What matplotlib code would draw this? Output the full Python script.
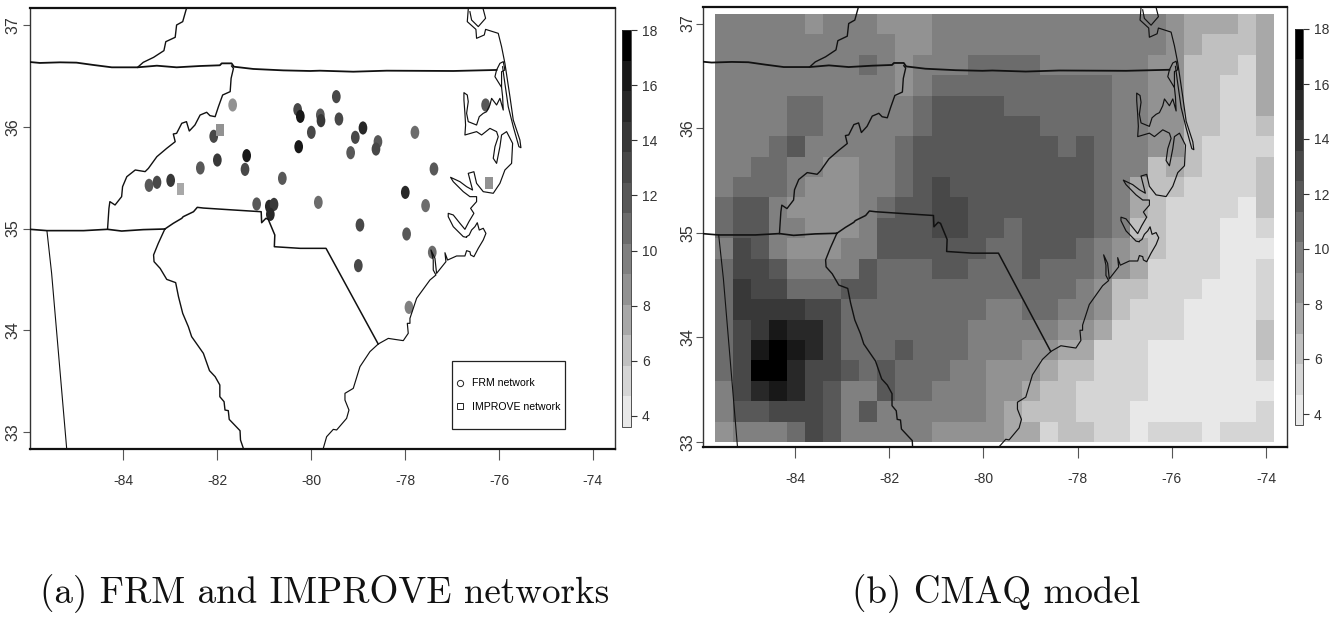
"""
Two map panels of PM2.5: monitoring sites (a) and CMAQ model grid (b).
"""

import numpy as np
import matplotlib
matplotlib.use("Agg")
import matplotlib.pyplot as plt
from matplotlib.colors import ListedColormap, BoundaryNorm
from matplotlib.cm import ScalarMappable
from matplotlib.lines import Line2D
from matplotlib.patches import Rectangle
from matplotlib.path import Path
from matplotlib.transforms import Affine2D

FIG_W = 1339
FIG_H = 620

LABEL_FONT = "Liberation Sans"

GRAYS = ["#e8e8e8", "#d5d5d5", "#c0c0c0", "#a8a8a8", "#929292", "#808080", "#6c6c6c",
         "#585858", "#484848", "#383838", "#282828", "#181818", "#000000"]
BOUNDS = np.linspace(3.6, 18, 14)
CBAR_TICKS = [4, 6, 8, 10, 12, 14, 16, 18]
X_TICKS = [-84, -82, -80, -78, -76, -74]
X_LABELS = ["-84", "-82", "-80", "-78", "-76", "-74"]
Y_TICKS = [33, 34, 35, 36, 37]
Y_LABELS = ["33", "34", "35", "36", "37"]

# model grid, one hex digit per cell = colour bin (0 lightest, c darkest), north row first
cmaq_bins = [
    "55555 4 555 444 5555555555555 4 333 2 3",
    "5555555555 44 5555555555555 4 3 222 3",
    "55555555 6 5 4 555 6666 555555 44 222 1 3",
    "5555555555 4 5 6666666666 55 44 22 11 3",
    "5555 66 55555 6 7777 666666 55 44 22 11 3",
    "5555 66 55555 6 777777 6666 55 44 22 11 2",
    "555 6 7 55555 6 77777777 6 7 6 55 44 2 111 1",
    "55 66 55 44 55 6 7777777777 6 55 23 2 111 2",
    "5 666 5 444 55 6 7 8 77777777 6 5 3 22 1111 2",
    "6 77 5 4444 5 6 77 88 7777777 6 5 3 2 1111 0 2",
    "6 77 5 5 44 45 777 88 77 6 7777 6 5 2 2 111 00 1",
    "5 8 7 5 444 55 777777 66 777 6 5 4 3 2 111 00 0",
    "6 88 7 5555 7 666 77 666 7 666 5 4 3 1111 00 1",
    "6 9 88 666 77 66666666666 5 4 22 111 000 1",
    "6 9999 88 66666666 55 66 55 4 2 111 0000 1",
    "6 8 9 b aa 8 6 666666 555 55 44 3 1111 0000 2",
    "6 8 b c b a 8 6 66 7 666 555 4 4 33 111 000000 2",
    "6 8 cc a 88 7 6 7 666 55 44 4 3 22 111 000000 1",
    "5 8 a b a 8 7 55 7 66 555 44 3 22 1111 0000000",
    "5 77 888 7 5 7 5 55555 4 3 222 111 0000000 1",
    "4 555 6 8 7 555 55 444 4 3 3 1 22 11 0 111 0 111",
]

# monitoring sites
frm_lon = [-83.447, -83.277, -82.986, -82.355, -81.993, -82.07, -81.667, -81.369, -81.404,
           -80.61, -81.156, -80.887, -80.787, -80.865, -80.284, -80.227, -79.993, -80.262,
           -79.844, -79.801, -79.787, -79.461, -79.405, -78.894, -79.057, -79.156, -78.575,
           -78.617, -77.788, -77.383, -77.993, -77.561, -78.958, -77.965, -77.419, -78.993,
           -77.915, -76.284]
frm_lat = [35.424, 35.454, 35.473, 35.595, 35.673, 35.906, 36.214, 35.716, 35.581,
           35.493, 35.241, 35.218, 35.237, 35.139, 36.168, 36.102, 35.945, 35.804,
           35.257, 36.115, 36.06, 36.296, 36.076, 35.988, 35.896, 35.745, 35.853,
           35.781, 35.945, 35.585, 35.355, 35.225, 35.034, 34.946, 34.766, 34.635,
           34.225, 36.214]
frm_pm25 = [11.9, 13.0, 14.1, 11.9, 14.1, 12.5, 8.6, 16.4, 13.0,
            11.9, 11.9, 15.2, 14.1, 15.2, 13.0, 16.4, 13.0, 16.4,
            10.8, 11.9, 14.1, 13.0, 13.0, 15.2, 13.0, 11.9, 11.9,
            13.0, 10.8, 11.9, 15.2, 10.8, 13.0, 11.9, 10.8, 13.0,
            9.7, 11.9]
improve_lon = [-81.936, -82.78, -76.213]
improve_lat = [35.968, 35.391, 35.45]
improve_pm25 = [9.0, 8.0, 8.6]

# state borders
va_nc_lon = [-85.98, -85.77, -85.34, -84.99, -84.63, -84.24, -83.69, -83.28, -82.86, -82.36,
             -81.94, -81.90, -81.69, -81.64, -81.23, -80.59, -80.02, -79.81, -79.10, -78.39,
             -76.97, -76.05]
va_nc_lat = [36.636, 36.627, 36.633, 36.63, 36.607, 36.584, 36.584, 36.60, 36.584, 36.597,
             36.604, 36.623, 36.623, 36.59, 36.568, 36.554, 36.548, 36.551, 36.541, 36.551,
             36.548, 36.558]
ky_va_lon = [-83.69, -83.57, -83.35, -83.13, -83.09, -82.89, -82.86, -82.73, -82.66, -82.62]
ky_va_lat = [36.584, 36.633, 36.682, 36.748, 36.836, 36.879, 37.0, 37.033, 37.147, 37.2]
nc_tn_lon = [-81.69, -81.65, -81.70, -81.72, -81.88, -81.97, -82.04, -82.15, -82.22, -82.36,
             -82.47, -82.59, -82.65, -82.75, -82.86, -82.93, -82.89, -83.07, -83.28, -83.46,
             -83.53, -83.74, -83.92, -84.01, -84.03, -84.17, -84.28, -84.30, -84.33]
nc_tn_lat = [36.597, 36.574, 36.476, 36.345, 36.312, 36.197, 36.099, 36.109, 36.142, 36.115,
             36.017, 35.958, 36.05, 36.034, 35.935, 35.929, 35.853, 35.788, 35.706, 35.591,
             35.559, 35.575, 35.509, 35.411, 35.313, 35.231, 35.264, 35.198, 34.992]
line_35_lon = [-85.98, -85.62, -84.84, -84.33, -84.03, -83.57, -83.11]
line_35_lat = [34.992, 34.979, 34.979, 34.992, 34.975, 34.989, 34.995]
nc_sc_lon = [-83.11, -82.93, -82.75, -82.72, -82.50, -82.42, -82.29, -81.65, -81.06, -81.05,
             -80.96, -80.91, -80.77, -80.78, -80.23, -79.68, -78.57]
nc_sc_lat = [34.995, 35.051, 35.10, 35.116, 35.165, 35.208, 35.201, 35.182, 35.165, 35.057,
             35.10, 35.09, 34.936, 34.821, 34.805, 34.805, 33.865]
ga_sc_lon = [-83.11, -83.25, -83.35, -83.34, -83.21, -83.07, -82.88, -82.82, -82.73, -82.61,
             -82.54, -82.43, -82.29, -82.16, -82.04, -81.94, -81.94, -81.85, -81.83, -81.76,
             -81.74, -81.51, -81.50, -81.44]
ga_sc_lat = [34.995, 34.854, 34.74, 34.674, 34.608, 34.50, 34.468, 34.33, 34.166, 34.035,
             33.937, 33.865, 33.773, 33.603, 33.544, 33.462, 33.347, 33.298, 33.216, 33.21,
             33.124, 33.013, 32.921, 32.84]
ga_al_lon = [-85.62, -85.52, -85.20]
ga_al_lat = [34.979, 34.56, 32.84]

# coast, south to north
coast_lon = [-79.738, -79.667, -79.525, -79.454, -79.242, -79.192, -79.277, -79.277, -79.10,
             -78.958, -78.745, -78.568, -78.355, -78.213, -78.036, -77.93, -77.95, -77.894,
             -77.894, -77.752, -77.468, -77.341, -77.398, -77.398, -77.447, -77.362, -77.327,
             -77.128, -77.149, -77.093, -76.901, -76.724, -76.688, -76.617, -76.603, -76.533,
             -76.44, -76.334, -76.277, -76.334, -76.419, -76.461, -76.511, -76.582, -76.632,
             -76.688, -76.688, -76.759, -76.972, -77.079, -77.079, -76.972, -76.83, -76.724,
             -76.639, -76.533, -76.603, -76.476, -76.476, -76.618, -76.759, -76.972, -77.029,
             -76.83, -76.688, -76.561, -76.653, -76.533, -76.476, -76.334, -76.121, -75.979,
             -75.873, -75.731, -75.709, -75.837, -75.944, -75.979, -76.05, -76.121, -76.085,
             -76.015, -76.05, -76.192, -76.369, -76.476, -76.724, -76.71, -76.724, -76.745,
             -76.745, -76.674, -76.653, -76.688, -76.653, -76.476, -76.419, -76.334, -76.263,
             -76.192, -76.156, -76.05, -75.979, -75.908, -75.922, -75.944, -76.085, -76.05,
             -75.979, -75.908, -75.873, -75.944, -75.944]
coast_lat = [32.84, 32.954, 33.026, 33.02, 33.134, 33.216, 33.314, 33.38, 33.429,
             33.642, 33.79, 33.865, 33.92, 33.91, 33.898, 33.97, 34.068, 34.068,
             34.117, 34.314, 34.494, 34.543, 34.592, 34.69, 34.789, 34.707, 34.559,
             34.674, 34.762, 34.69, 34.73, 34.73, 34.782, 34.772, 34.74, 34.723,
             34.805, 34.887, 34.952, 35.002, 34.985, 35.057, 35.018, 34.985, 34.936,
             34.92, 34.913, 34.92, 35.018, 35.116, 35.149, 35.133, 35.051, 34.992,
             35.067, 35.149, 35.198, 35.264, 35.313, 35.313, 35.362, 35.46, 35.503,
             35.46, 35.411, 35.378, 35.542, 35.558, 35.444, 35.362, 35.346, 35.444,
             35.575, 35.64, 35.837, 35.952, 35.919, 35.804, 35.64, 35.69, 35.804,
             35.902, 35.952, 35.984, 35.919, 35.952, 35.919, 36.017, 36.132, 36.263,
             36.335, 36.312, 36.247, 36.132, 36.05, 36.017, 36.099, 36.132, 36.148,
             36.214, 36.279, 36.214, 36.279, 36.164, 36.296, 36.387, 36.492, 36.558,
             36.623, 36.64, 36.558, 36.541, 36.394]
outer_banks_lon = [-76.653, -76.674, -76.49, -76.476, -76.312, -76.284, -76.015, -75.944,
                   -75.873, -75.766, -75.695, -75.554, -75.532, -75.575, -75.695, -75.802,
                   -75.894, -75.922]
outer_banks_lat = [37.154, 37.033, 36.957, 36.869, 36.902, 36.957, 36.918, 36.787,
                   36.623, 36.296, 36.066, 35.87, 35.794, 35.804, 36.001, 36.197,
                   36.492, 36.59]
delmarva_lon = [-76.334, -76.284, -76.44, -76.582, -76.618]
delmarva_lat = [37.154, 37.066, 36.984, 37.049, 37.131]

BORDERS = [(va_nc_lon, va_nc_lat, 1.3), (ky_va_lon, ky_va_lat, 1.0), (nc_tn_lon, nc_tn_lat, 1.0),
           (line_35_lon, line_35_lat, 1.2), (nc_sc_lon, nc_sc_lat, 1.1), (ga_sc_lon, ga_sc_lat, 1.0),
           (ga_al_lon, ga_al_lat, 0.8), (coast_lon, coast_lat, 0.85),
           (outer_banks_lon, outer_banks_lat, 0.85), (delmarva_lon, delmarva_lat, 0.85)]


def px_axes(fig, left, top, right, bottom):
    """Adds axes given by pixel edges, y counted from the top of the figure."""
    return fig.add_axes([left / FIG_W, 1 - bottom / FIG_H, (right - left) / FIG_W, (bottom - top) / FIG_H])


def draw_map(ax, xlim, ylim, ylabel_pad):
    for lon, lat, width in BORDERS:
        ax.plot(lon, lat, color="#111111", lw=width, zorder=3)

    ax.set_xlim(xlim)
    ax.set_ylim(ylim)
    ax.set_xticks(X_TICKS)
    ax.set_xticklabels(X_LABELS, family=LABEL_FONT, fontsize=10, color="#333333")
    ax.set_yticks(Y_TICKS)
    ax.set_yticklabels(Y_LABELS, family=LABEL_FONT, fontsize=11.5, color="#333333",
                       rotation=90, va="center")
    ax.tick_params(axis="x", length=8, width=0.8, color="#555555", pad=10)
    ax.tick_params(axis="y", length=5, width=0.8, color="#555555", pad=ylabel_pad)

    for side in ["top", "bottom"]:
        ax.spines[side].set_linewidth(1.6)
        ax.spines[side].set_color("#111111")
    for side in ["left", "right"]:
        ax.spines[side].set_linewidth(1.0)
        ax.spines[side].set_color("#333333")


def draw_colorbar(fig, cax, cmap, norm):
    bar = fig.colorbar(ScalarMappable(norm=norm, cmap=cmap), cax=cax, spacing="proportional",
                       boundaries=BOUNDS, drawedges=False)
    bar.set_ticks(CBAR_TICKS)
    bar.set_ticklabels([str(t) for t in CBAR_TICKS], family=LABEL_FONT, fontsize=10, color="#333333")
    bar.minorticks_off()
    cax.tick_params(axis="y", length=4, width=0.8, color="#333333", pad=4)
    bar.outline.set_linewidth(0.6)
    bar.outline.set_edgecolor("#333333")


def main():
    cmap = ListedColormap(GRAYS)
    norm = BoundaryNorm(BOUNDS, cmap.N)
    bin_width = BOUNDS[1] - BOUNDS[0]

    fig = plt.figure(figsize=(FIG_W / 100, FIG_H / 100), dpi=100)

    # sites are drawn tall, the published map is stretched vertically
    tall_circle = Path.unit_circle().transformed(Affine2D().scale(0.66, 1))
    tall_square = Path.unit_rectangle().transformed(Affine2D().translate(-0.5, -0.5).scale(0.62, 1))

    ax1 = px_axes(fig, 30, 8, 615, 449)
    ax1.scatter(frm_lon, frm_lat, c=frm_pm25, cmap=cmap, norm=norm, marker=tall_circle, s=90,
                linewidths=0, zorder=2)
    ax1.scatter(improve_lon, improve_lat, c=improve_pm25, cmap=cmap, norm=norm, marker=tall_square,
                s=75, linewidths=0, zorder=2)
    draw_map(ax1, (-85.98, -73.53), (32.833, 37.167), 2)

    # the legend box is taller than matplotlib's own frame, so it is drawn separately
    box_x, box_y, box_w, box_h = 0.7214, 0.0454, 0.1932, 0.1542
    ax1.add_patch(Rectangle((box_x, box_y), box_w, box_h, transform=ax1.transAxes, facecolor="white",
                            edgecolor="#222222", linewidth=0.9, zorder=4))
    handles = [
        Line2D([], [], ls="", marker="o", ms=4.5, mfc="none", mec="#222222", mew=0.7, label="FRM network"),
        Line2D([], [], ls="", marker="s", ms=4.5, mfc="none", mec="#222222", mew=0.7, label="IMPROVE network"),
    ]
    legend = ax1.legend(handles=handles, loc="center", bbox_to_anchor=(box_x + box_w / 2, box_y + box_h / 2),
                        borderaxespad=0, frameon=False, handlelength=0.7, handletextpad=0.8, labelspacing=1.25,
                        borderpad=0, prop={"family": LABEL_FONT, "size": 7.6})
    legend.set_zorder(5)

    ax2 = px_axes(fig, 703, 7, 1287, 447)
    bins = np.array([[int(ch, 16) for ch in row.replace(" ", "")] for row in cmaq_bins])
    pm25 = BOUNDS[0] + (bins + 0.5) * bin_width
    lon_edges = np.linspace(-85.688, -73.84, bins.shape[1] + 1)
    lat_edges = np.linspace(37.09, 33.0, bins.shape[0] + 1)
    ax2.pcolormesh(lon_edges, lat_edges, pm25, cmap=cmap, norm=norm, zorder=1)
    draw_map(ax2, (-85.953, -73.554), (32.952, 37.158), 0.5)

    draw_colorbar(fig, px_axes(fig, 622, 30, 631, 427), cmap, norm)
    draw_colorbar(fig, px_axes(fig, 1295, 29, 1303, 425), cmap, norm)

    caption = {"family": "cmr10", "fontsize": 26.7, "color": "#111111"}
    fig.text(40 / FIG_W, 1 - 603 / FIG_H, "(a) FRM and IMPROVE networks", **caption)
    fig.text(852 / FIG_W, 1 - 603 / FIG_H, "(b) CMAQ model", **caption)

    fig.savefig("out.png", dpi=100)


if __name__ == "__main__":
    main()
